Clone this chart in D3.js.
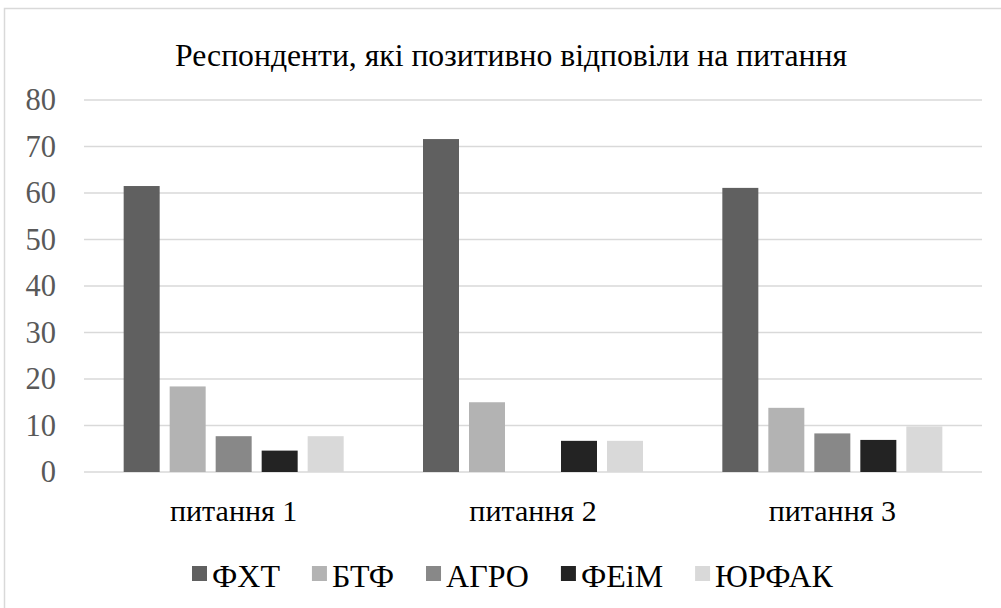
<!DOCTYPE html>
<html>
<head>
<meta charset="utf-8">
<script src="https://cdnjs.cloudflare.com/ajax/libs/d3/7.8.5/d3.min.js"></script>
<style>
  body { margin: 0; background: #fff; }
</style>
</head>
<body>
<script>
var categories = ["питання 1", "питання 2", "питання 3"];
var series = ["ФХТ", "БТФ", "АГРО", "ФЕіМ", "ЮРФАК"];
var fxt    = [61.5, 71.6, 61.1];
var btf    = [18.4, 15.0, 13.8];
var agro   = [7.7, 0, 8.3];
var feim   = [4.6, 6.7, 6.9];
var yurfak = [7.7, 6.7, 9.8];
var yTicks = [0, 10, 20, 30, 40, 50, 60, 70, 80];
var colors = ["#606060", "#b3b3b3", "#888888", "#232323", "#d9d9d9"];
var title = "Респонденти, які позитивно відповіли на питання";

var values = [fxt, btf, agro, feim, yurfak];
var FONT = "'Liberation Serif'";

var W = 1001, H = 608;
var margin = {left: 84, top: 100, right: 19, bottom: 136};
var frame_w = W - margin.left - margin.right;
var frame_h = H - margin.top - margin.bottom;

var svg = d3.select("body").append("svg").attr("width", W).attr("height", H);

// chart area border
svg.append("rect")
    .attr("x", 4.5).attr("y", 8.5)
    .attr("width", W + 10).attr("height", H + 10)
    .attr("fill", "#fff")
    .attr("stroke", "#d9d9d9")
    .attr("stroke-width", 1.5);

svg.append("text")
    .attr("x", 511).attr("y", 66)
    .attr("text-anchor", "middle")
    .style("font-size", "31.7px")
    .style("fill", "#000")
    .style("font-family", FONT)
    .text(title);

var g = svg.append("g").attr("transform", "translate(" + margin.left + "," + margin.top + ")");

var xScale = d3.scaleBand().domain(categories).range([0, frame_w]).paddingInner(0).paddingOuter(0);
var yScale = d3.scaleLinear().domain([0, 80]).range([frame_h, 0]);

// inner band for series
var barW = 36, gap = 10;
var xSub = d3.scaleBand().domain(series)
    .range([(xScale.bandwidth() - (5 * barW + 4 * gap)) / 2, (xScale.bandwidth() + (5 * barW + 4 * gap)) / 2])
    .paddingInner(gap / (barW + gap)).paddingOuter(0);

// gridlines
g.append("g")
    .selectAll("line").data(yTicks).enter().append("line")
    .attr("x1", 0).attr("x2", frame_w)
    .attr("y1", function (d) { return yScale(d); })
    .attr("y2", function (d) { return yScale(d); })
    .attr("stroke", "#d9d9d9")
    .attr("stroke-width", 1.5);

// y axis labels
var yAxis = d3.axisLeft(yScale).tickValues(yTicks).tickSize(0).tickPadding(28);
var yAxisG = g.append("g").call(yAxis).attr("font-family", null).attr("font-size", null);
yAxisG.select(".domain").remove();
yAxisG.selectAll("text")
    .style("font-size", "30.5px")
    .style("fill", "#595959")
    .style("font-family", FONT);

// x axis labels
var xAxis = d3.axisBottom(xScale).tickSize(0).tickPadding(28);
var xAxisG = g.append("g").attr("transform", "translate(0," + frame_h + ")").call(xAxis)
    .attr("font-family", null).attr("font-size", null);
xAxisG.select(".domain").remove();
xAxisG.selectAll("text")
    .style("font-size", "30px")
    .style("fill", "#000")
    .style("font-family", FONT);

// bars
var groups = g.selectAll(".grp").data(categories).enter().append("g")
    .attr("transform", function (d) { return "translate(" + xScale(d) + ",0)"; });

groups.selectAll("rect")
    .data(function (d, i) { return series.map(function (s, j) { return {s: s, v: values[j][i], j: j}; }); })
    .enter().append("rect")
    .attr("x", function (d) { return xSub(d.s); })
    .attr("width", xSub.bandwidth())
    .attr("y", function (d) { return yScale(d.v); })
    .attr("height", function (d) { return frame_h - yScale(d.v); })
    .attr("fill", function (d) { return colors[d.j]; });

// legend
var legend = svg.append("g").attr("transform", "translate(0,587)");
var lx = 192;
series.forEach(function (s, j) {
    var item = legend.append("g").attr("transform", "translate(" + lx + ",0)");
    item.append("rect").attr("x", 0).attr("y", -21).attr("width", 15).attr("height", 15).attr("fill", colors[j]);
    var t = item.append("text").attr("x", 20).attr("y", 0)
        .style("font-size", "32px").style("fill", "#000").style("font-family", FONT).text(s);
    lx += 20 + t.node().getComputedTextLength() + 32;
});
</script>
</body>
</html>
